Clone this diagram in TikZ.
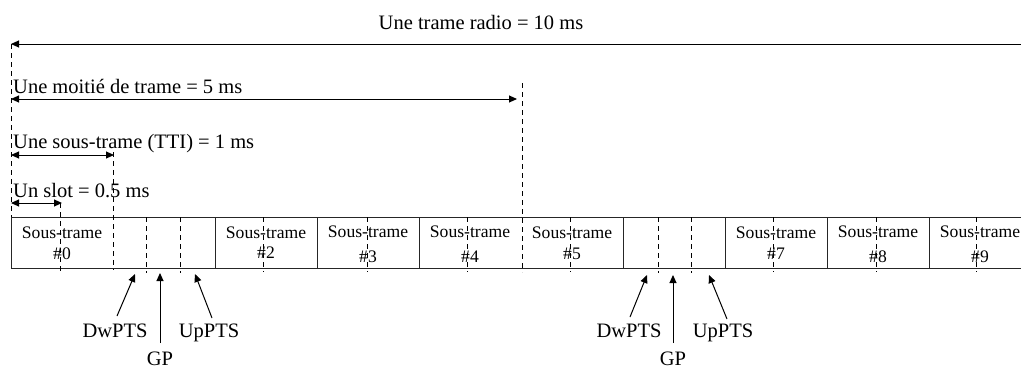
\documentclass[tikz,border=0pt]{standalone}
\usepackage{fontspec}
\setmainfont{Liberation Serif}
\usetikzlibrary{arrows.meta}
\begin{document}
\begin{tikzpicture}[x=1pt,y=-1pt,
  lbl/.style={font=\fontsize{20.5}{24}\selectfont, inner sep=0pt, anchor=base west},
  lblc/.style={font=\fontsize{20.5}{24}\selectfont, inner sep=0pt, anchor=base},
  celltxt/.style={font=\fontsize{17.6}{20}\selectfont, inner sep=0pt, anchor=base},
  dsh/.style={dash pattern=on 5pt off 4pt, line width=0.9pt},
  solid line/.style={line width=0.9pt, draw=black!85},
  arr/.style={line width=1pt, -{Triangle[length=8pt,width=7pt]}},
  darr/.style={line width=1pt, {Triangle[length=8pt,width=7pt]}-{Triangle[length=8pt,width=7pt]}},
]
\clip (0,0) rectangle (1021,370);
\fill[white] (0,0) rectangle (1021,370);

% labels
\node[lblc] (ttl) at (481,29) {Une trame radio = 10 ms};
\node[lbl] (half) at (13,93) {Une moitié de trame = 5 ms};
\node[lbl] (sub) at (13,148) {Une sous-trame (TTI) = 1 ms};
\node[lbl] (slot) at (13,197) {Un slot = 0.5 ms};

% arrow end points
\coordinate (frameL) at (11,44);
\coordinate (frameR) at (1040,44);
\coordinate (halfL) at (11,99);
\coordinate (halfR) at (517,99);
\coordinate (subL) at (11,155);
\coordinate (subR) at (114,155);
\coordinate (slotL) at (11,203);
\coordinate (slotR) at (62,203);

\draw[arr] (frameR) -- (frameL);
\draw[darr] (halfL) -- (halfR);
\draw[darr] (subL) -- (subR);
\draw[darr] (slotL) -- (slotR);

% box
\draw[solid line] (1040,217) -- (11,217) -- (11,268) -- (1040,268);
\foreach \x in {215,317,419,623,725,827,929}
  \draw[solid line] (\x,217) -- (\x,268);

% dashed verticals
\draw[dsh] (11,44) -- (11,217);
\draw[dsh] (522,83) -- (522,272);
\draw[dsh] (113,152) -- (113,270);
\draw[dsh] (60,203) -- (60,272);
\foreach \x in {263,367,467,570,773,876,976}
  \draw[dsh] (\x,217) -- (\x,272);
\foreach \x in {146,180,658,691}
  \draw[dsh] (\x,217) -- (\x,273);

% cell texts
\foreach \i/\c/\ya/\yb in {0/62/238/259, 2/266/238/258, 3/368/237/262, 4/470/237/262, 5/572/238/259, 7/776/238/259, 8/878/237/262, 9/980/237/262} {
  \node[celltxt] (st\i) at (\c,\ya) {Sous-trame};
  \node[celltxt] (num\i) at (\c,\yb) {\#\i};
}

% special subframe annotations
\node[lblc] (dw1) at (115,337) {DwPTS};
\node[lblc] (gp1) at (160,365) {GP};
\node[lblc] (up1) at (209,337) {UpPTS};
\coordinate (dw1s) at (117,316);
\coordinate (dw1e) at (135,274);
\coordinate (gp1s) at (160,343);
\coordinate (gp1e) at (160,273);
\coordinate (up1s) at (212,318);
\coordinate (up1e) at (195,274);
\draw[arr] (dw1s) -- (dw1e);
\draw[arr] (gp1s) -- (gp1e);
\draw[arr] (up1s) -- (up1e);

\node[lblc] (dw2) at (629,337) {DwPTS};
\node[lblc] (gp2) at (673,365) {GP};
\node[lblc] (up2) at (723,337) {UpPTS};
\coordinate (dw2s) at (630,317);
\coordinate (dw2e) at (647,275);
\coordinate (gp2s) at (673,343);
\coordinate (gp2e) at (673,275);
\coordinate (up2s) at (727,319);
\coordinate (up2e) at (709,275);
\draw[arr] (dw2s) -- (dw2e);
\draw[arr] (gp2s) -- (gp2e);
\draw[arr] (up2s) -- (up2e);
\end{tikzpicture}
\end{document}
